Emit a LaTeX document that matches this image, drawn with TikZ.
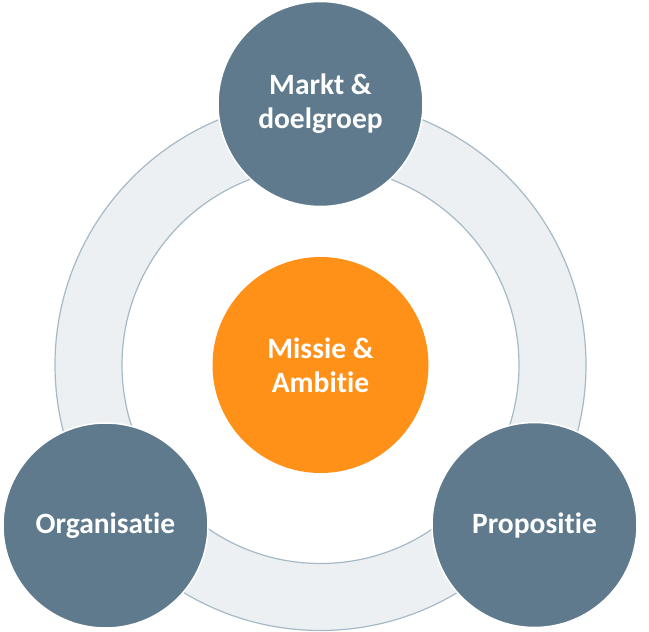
\documentclass[tikz,border=0pt]{standalone}
\usepackage{fontspec}
\setmainfont{Carlito}[RawFeature=-liga]
\usepackage{tikz}
\definecolor{slate}{HTML}{5E7A8C}
\definecolor{ambition}{HTML}{FF9119}
\definecolor{ringfill}{HTML}{ECF0F3}
\definecolor{ringline}{HTML}{A5BAC6}
\def\outerr{265.5pt}
\def\innerr{198.5pt}
\tikzset{ring/.style={fill=ringfill, draw=ringline, line width=1.2pt, even odd rule}}
\tikzset{pillar/.style={circle, fill=slate, draw=white, line width=1.5pt, minimum size=205pt, inner sep=0pt, text=white, align=center, font=\bfseries\fontsize{29.5}{34}\selectfont}}
\tikzset{core/.style={pillar, fill=ambition, draw=none, minimum size=216pt}}

\begin{document}
\begin{tikzpicture}[x=1pt,y=-1pt]
        % Canvas
        \useasboundingbox (0,0) rectangle (649,632);
        % Ring behind everything
        \coordinate (mid) at (320.5,365);
        \draw[ring] (mid) circle (\outerr) (mid) circle (\innerr);
        % Centre
        \node[core] (missie) at (mid) {Missie \&\\Ambitie};
        % The three pillars on the ring
        \foreach \name/\pos/\label in {
          markt/{(320.5,104)}/{Markt \&\\doelgroep},
          organisatie/{(105.5,525.5)}/{Organisatie},
          propositie/{(534.5,525)}/{Propositie}%
        } {
          \node[pillar] (\name) at \pos {\label};
        }
\end{tikzpicture}
\end{document}
